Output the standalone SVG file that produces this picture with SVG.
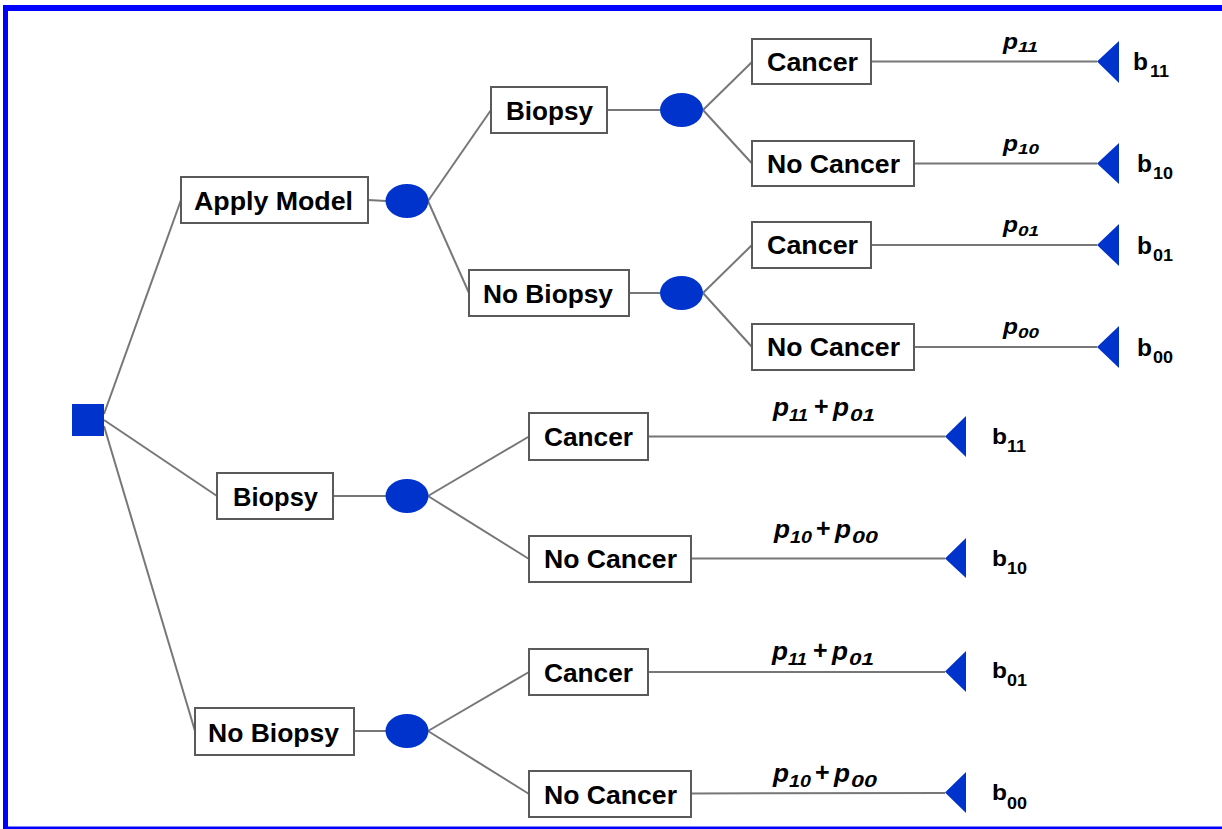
<svg xmlns="http://www.w3.org/2000/svg" width="1222" height="829" viewBox="0 0 1222 829">
<style>
.bg{fill:#ffffff}
.frame{fill:#0000ff}
.box{fill:#ffffff;stroke:#5a5a5a;stroke-width:2}
.lbl{font-family:"Liberation Sans",Arial,sans-serif;font-weight:bold;font-size:25px;fill:#000000}
.chance{fill:#0033cc}
.dec{fill:#0033cc}
.term{fill:#0033cc}
.conn line{stroke:#777777;stroke-width:2}
.p{font-family:"Liberation Sans",Arial,sans-serif;font-weight:bold;font-style:italic;fill:#000000}
.b{font-family:"Liberation Sans",Arial,sans-serif;font-weight:bold;fill:#000000}
.plus{font-family:"Liberation Sans",Arial,sans-serif;font-weight:bold;font-size:25px;fill:#000000}
</style>
<rect class="bg" x="0" y="0" width="1222" height="829"/>
<g id="frame">
<rect class="frame" x="3" y="5" width="1219" height="6"/>
<rect class="frame" x="3" y="5" width="5" height="824"/>
<rect class="frame" x="3" y="826.5" width="1219" height="2.5"/>
</g>
<g id="connectors" class="conn">
<line x1="104" y1="414" x2="181" y2="200"/>
<line x1="104" y1="420" x2="217" y2="496"/>
<line x1="104" y1="426" x2="195" y2="731"/>
<line x1="368" y1="200" x2="386" y2="201"/>
<line x1="428" y1="201" x2="491" y2="110"/>
<line x1="428" y1="201" x2="469" y2="293"/>
<line x1="607" y1="110" x2="660" y2="110"/>
<line x1="629" y1="293" x2="660" y2="293"/>
<line x1="703" y1="110" x2="752" y2="62"/>
<line x1="703" y1="110" x2="752" y2="163.5"/>
<line x1="703" y1="293" x2="752" y2="245"/>
<line x1="703" y1="293" x2="752" y2="347"/>
<line x1="871" y1="61.5" x2="1097" y2="61.5"/>
<line x1="914" y1="163.5" x2="1097" y2="163.5"/>
<line x1="871" y1="245" x2="1097" y2="245"/>
<line x1="914" y1="347" x2="1097" y2="347"/>
<line x1="333" y1="496" x2="386" y2="496"/>
<line x1="354" y1="731" x2="386" y2="731"/>
<line x1="428" y1="496" x2="529" y2="436.5"/>
<line x1="428" y1="496" x2="529" y2="559"/>
<line x1="428" y1="731" x2="529" y2="672"/>
<line x1="428" y1="731" x2="529" y2="794"/>
<line x1="648" y1="436.5" x2="945" y2="436.5"/>
<line x1="691" y1="558.5" x2="945" y2="558.5"/>
<line x1="648" y1="672" x2="945" y2="672"/>
<line x1="691" y1="793.5" x2="945" y2="793"/>
</g>
<g id="decision"><rect class="dec" x="72" y="404" width="32" height="32"/></g>
<g id="n-apply-model"><rect class="box" x="181" y="177" width="187" height="46"/><text class="lbl" x="194" y="209.5" textLength="159" lengthAdjust="spacingAndGlyphs">Apply Model</text></g>
<g id="c-apply"><ellipse class="chance" cx="407" cy="201" rx="21.5" ry="17"/></g>
<g id="n-biopsy-1"><rect class="box" x="491" y="87" width="116" height="46"/><text class="lbl" x="506" y="119.5" textLength="87" lengthAdjust="spacingAndGlyphs">Biopsy</text></g>
<g id="n-nobiopsy-1"><rect class="box" x="469" y="270" width="160" height="46"/><text class="lbl" x="483" y="302.5" textLength="130" lengthAdjust="spacingAndGlyphs">No Biopsy</text></g>
<g id="c-biopsy-1"><ellipse class="chance" cx="681.5" cy="110" rx="21.5" ry="17"/></g>
<g id="c-nobiopsy-1"><ellipse class="chance" cx="681.5" cy="293" rx="21.5" ry="17"/></g>
<g id="n-cancer-11"><rect class="box" x="752" y="39" width="119" height="45"/><text class="lbl" x="767" y="70.5" textLength="91" lengthAdjust="spacingAndGlyphs">Cancer</text></g>
<g id="n-nocancer-10"><rect class="box" x="752" y="141" width="162" height="45"/><text class="lbl" x="767" y="172.5" textLength="133" lengthAdjust="spacingAndGlyphs">No Cancer</text></g>
<g id="n-cancer-01"><rect class="box" x="752" y="222" width="119" height="46"/><text class="lbl" x="767" y="254" textLength="91" lengthAdjust="spacingAndGlyphs">Cancer</text></g>
<g id="n-nocancer-00"><rect class="box" x="752" y="324" width="162" height="46"/><text class="lbl" x="767" y="356" textLength="133" lengthAdjust="spacingAndGlyphs">No Cancer</text></g>
<g id="t-11"><polygon class="term" points="1097,61.5 1119,41 1119,83"/><text class="p" x="1003" y="48.5" font-size="22" textLength="15" lengthAdjust="spacingAndGlyphs">p</text><text class="p" x="1018" y="52" font-size="14" textLength="20" lengthAdjust="spacingAndGlyphs">11</text><text class="b" x="1133" y="70" font-size="23" textLength="15" lengthAdjust="spacingAndGlyphs">b</text><text class="b" x="1150" y="77" font-size="16" textLength="19" lengthAdjust="spacingAndGlyphs">11</text></g>
<g id="t-10"><polygon class="term" points="1097,163.5 1119,143 1119,184"/><text class="p" x="1003" y="150.5" font-size="22" textLength="15" lengthAdjust="spacingAndGlyphs">p</text><text class="p" x="1018" y="154" font-size="14" textLength="21" lengthAdjust="spacingAndGlyphs">10</text><text class="b" x="1137" y="172" font-size="23" textLength="15" lengthAdjust="spacingAndGlyphs">b</text><text class="b" x="1153" y="179" font-size="16" textLength="20" lengthAdjust="spacingAndGlyphs">10</text></g>
<g id="t-01"><polygon class="term" points="1097,245 1119,224 1119,266"/><text class="p" x="1003" y="232" font-size="22" textLength="15" lengthAdjust="spacingAndGlyphs">p</text><text class="p" x="1018" y="235.5" font-size="14" textLength="21" lengthAdjust="spacingAndGlyphs">01</text><text class="b" x="1137" y="253.5" font-size="23" textLength="15" lengthAdjust="spacingAndGlyphs">b</text><text class="b" x="1153" y="260.5" font-size="16" textLength="20" lengthAdjust="spacingAndGlyphs">01</text></g>
<g id="t-00"><polygon class="term" points="1097,347 1119,326 1119,368"/><text class="p" x="1003" y="334" font-size="22" textLength="15" lengthAdjust="spacingAndGlyphs">p</text><text class="p" x="1018" y="337.5" font-size="14" textLength="21" lengthAdjust="spacingAndGlyphs">00</text><text class="b" x="1137" y="355.5" font-size="23" textLength="15" lengthAdjust="spacingAndGlyphs">b</text><text class="b" x="1153" y="362.5" font-size="16" textLength="20" lengthAdjust="spacingAndGlyphs">00</text></g>
<g id="n-biopsy-2"><rect class="box" x="217" y="473" width="116" height="46"/><text class="lbl" x="233" y="505.5" textLength="85" lengthAdjust="spacingAndGlyphs">Biopsy</text></g>
<g id="c-biopsy-2"><ellipse class="chance" cx="407" cy="496" rx="21.5" ry="17"/></g>
<g id="n-nobiopsy-2"><rect class="box" x="195" y="708" width="159" height="47"/><text class="lbl" x="208" y="741.5" textLength="131" lengthAdjust="spacingAndGlyphs">No Biopsy</text></g>
<g id="c-nobiopsy-2"><ellipse class="chance" cx="407" cy="731" rx="21.5" ry="17"/></g>
<g id="n-cancer-b"><rect class="box" x="529" y="413" width="119" height="47"/><text class="lbl" x="544" y="446" textLength="89" lengthAdjust="spacingAndGlyphs">Cancer</text></g>
<g id="n-nocancer-b"><rect class="box" x="529" y="536" width="162" height="46"/><text class="lbl" x="544" y="568" textLength="133" lengthAdjust="spacingAndGlyphs">No Cancer</text></g>
<g id="n-cancer-nb"><rect class="box" x="529" y="649" width="119" height="46"/><text class="lbl" x="544" y="681.5" textLength="89" lengthAdjust="spacingAndGlyphs">Cancer</text></g>
<g id="n-nocancer-nb"><rect class="box" x="529" y="771" width="162" height="46"/><text class="lbl" x="544" y="803.5" textLength="133" lengthAdjust="spacingAndGlyphs">No Cancer</text></g>
<g id="t-b11"><polygon class="term" points="945,436.5 966,416 966,457"/><text class="p" x="773" y="416" font-size="26" textLength="16" lengthAdjust="spacingAndGlyphs">p</text><text class="p" x="789" y="421" font-size="17" textLength="19" lengthAdjust="spacingAndGlyphs">11</text><text class="plus" x="814" y="415">+</text><text class="p" x="833" y="416" font-size="26" textLength="16" lengthAdjust="spacingAndGlyphs">p</text><text class="p" x="850" y="421" font-size="17" textLength="25" lengthAdjust="spacingAndGlyphs">01</text><text class="b" x="992" y="444" font-size="22" textLength="15" lengthAdjust="spacingAndGlyphs">b</text><text class="b" x="1007" y="452" font-size="16" textLength="19" lengthAdjust="spacingAndGlyphs">11</text></g>
<g id="t-b10"><polygon class="term" points="945,558.5 966,538 966,578"/><text class="p" x="774" y="538" font-size="26" textLength="16" lengthAdjust="spacingAndGlyphs">p</text><text class="p" x="790" y="543" font-size="17" textLength="22" lengthAdjust="spacingAndGlyphs">10</text><text class="plus" x="816" y="537">+</text><text class="p" x="835" y="538" font-size="26" textLength="16" lengthAdjust="spacingAndGlyphs">p</text><text class="p" x="852" y="543" font-size="17" textLength="26" lengthAdjust="spacingAndGlyphs">00</text><text class="b" x="992" y="566" font-size="22" textLength="15" lengthAdjust="spacingAndGlyphs">b</text><text class="b" x="1007" y="573.5" font-size="16" textLength="20" lengthAdjust="spacingAndGlyphs">10</text></g>
<g id="t-b01"><polygon class="term" points="945,671.5 966,651 966,692"/><text class="p" x="772" y="660" font-size="26" textLength="16" lengthAdjust="spacingAndGlyphs">p</text><text class="p" x="788" y="665" font-size="17" textLength="19" lengthAdjust="spacingAndGlyphs">11</text><text class="plus" x="813" y="659">+</text><text class="p" x="832" y="660" font-size="26" textLength="16" lengthAdjust="spacingAndGlyphs">p</text><text class="p" x="849" y="665" font-size="17" textLength="25" lengthAdjust="spacingAndGlyphs">01</text><text class="b" x="992" y="678" font-size="22" textLength="15" lengthAdjust="spacingAndGlyphs">b</text><text class="b" x="1007" y="686" font-size="16" textLength="20" lengthAdjust="spacingAndGlyphs">01</text></g>
<g id="t-b00"><polygon class="term" points="945,792.5 966,772 966,813"/><text class="p" x="773" y="782" font-size="26" textLength="16" lengthAdjust="spacingAndGlyphs">p</text><text class="p" x="789" y="787" font-size="17" textLength="22" lengthAdjust="spacingAndGlyphs">10</text><text class="plus" x="815" y="781">+</text><text class="p" x="834" y="782" font-size="26" textLength="16" lengthAdjust="spacingAndGlyphs">p</text><text class="p" x="851" y="787" font-size="17" textLength="26" lengthAdjust="spacingAndGlyphs">00</text><text class="b" x="992" y="800" font-size="22" textLength="15" lengthAdjust="spacingAndGlyphs">b</text><text class="b" x="1007" y="808.5" font-size="16" textLength="20" lengthAdjust="spacingAndGlyphs">00</text></g>
</svg>
